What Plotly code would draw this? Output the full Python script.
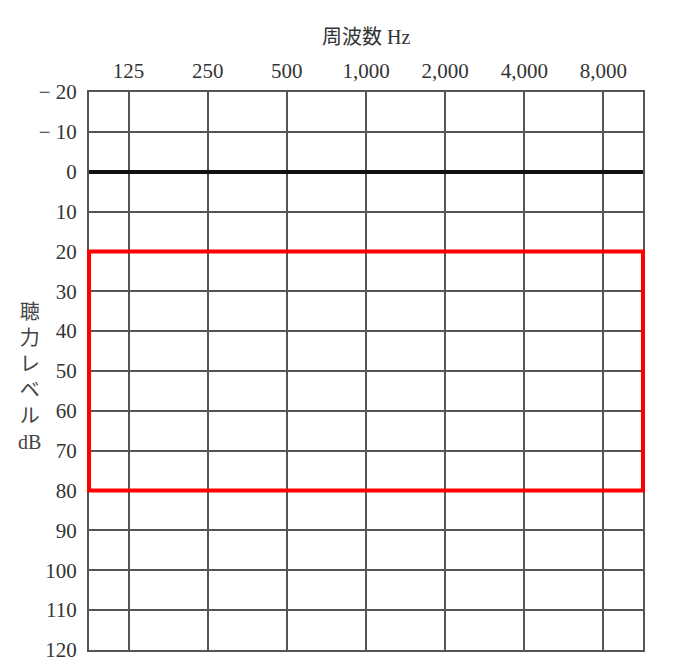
import plotly.graph_objects as go

frequencies = ["125", "250", "500", "1,000", "2,000", "4,000", "8,000"]
level_ticks = [-20, -10, 0, 10, 20, 30, 40, 50, 60, 70, 80, 90, 100, 110, 120]
level_labels = ["− 20", "− 10", "0", "10", "20", "30", "40", "50", "60",
                "70", "80", "90", "100", "110", "120"]
normal_low = 20
normal_high = 80

serif = "Liberation Serif, DejaVu Serif, Noto Sans CJK JP"
grid = "#555555"

fig = go.Figure()
# invisible trace so the category axis knows its frequencies
fig.add_trace(go.Scatter(x=frequencies, y=[None] * len(frequencies),
                         mode="markers", showlegend=False, hoverinfo="skip"))

fig.add_shape(type="rect", xref="paper", yref="y",
              x0=0, x1=1, y0=normal_low, y1=normal_high,
              line=dict(color="#ff0000", width=4), fillcolor="rgba(0,0,0,0)")

fig.update_xaxes(type="category", categoryarray=frequencies, side="top",
                 range=[-0.5, len(frequencies) - 0.5],
                 showgrid=True, gridcolor=grid, gridwidth=2,
                 showline=True, linecolor=grid, linewidth=2, mirror=True,
                 ticks="", ticklabelstandoff=4,
                 tickfont=dict(family=serif, size=21, color="#333333"))
fig.update_yaxes(range=[120, -20], tickvals=level_ticks, ticktext=level_labels,
                 showgrid=True, gridcolor=grid, gridwidth=2,
                 zeroline=True, zerolinecolor="#111111", zerolinewidth=4,
                 showline=True, linecolor=grid, linewidth=2, mirror=True,
                 ticks="", ticklabelstandoff=6,
                 tickfont=dict(family=serif, size=21, color="#333333"))

fig.add_annotation(text="周波数 Hz", xref="paper", yref="paper",
                   x=0.5, y=1, yanchor="middle", yshift=55, showarrow=False,
                   font=dict(family=serif, size=20, color="#333333"))
fig.add_annotation(text="聴<br>力<br>レ<br>ベ<br>ル<br>dB", xref="paper", yref="paper",
                   x=-0.108, y=0.49, xanchor="center", yanchor="middle",
                   showarrow=False, align="center",
                   font=dict(family=serif, size=20, color="#444444"))

fig.update_layout(width=676, height=672, margin=dict(l=81, r=41, t=84, b=30),
                  plot_bgcolor="white", paper_bgcolor="white", showlegend=False)
fig.write_html("out.html")
